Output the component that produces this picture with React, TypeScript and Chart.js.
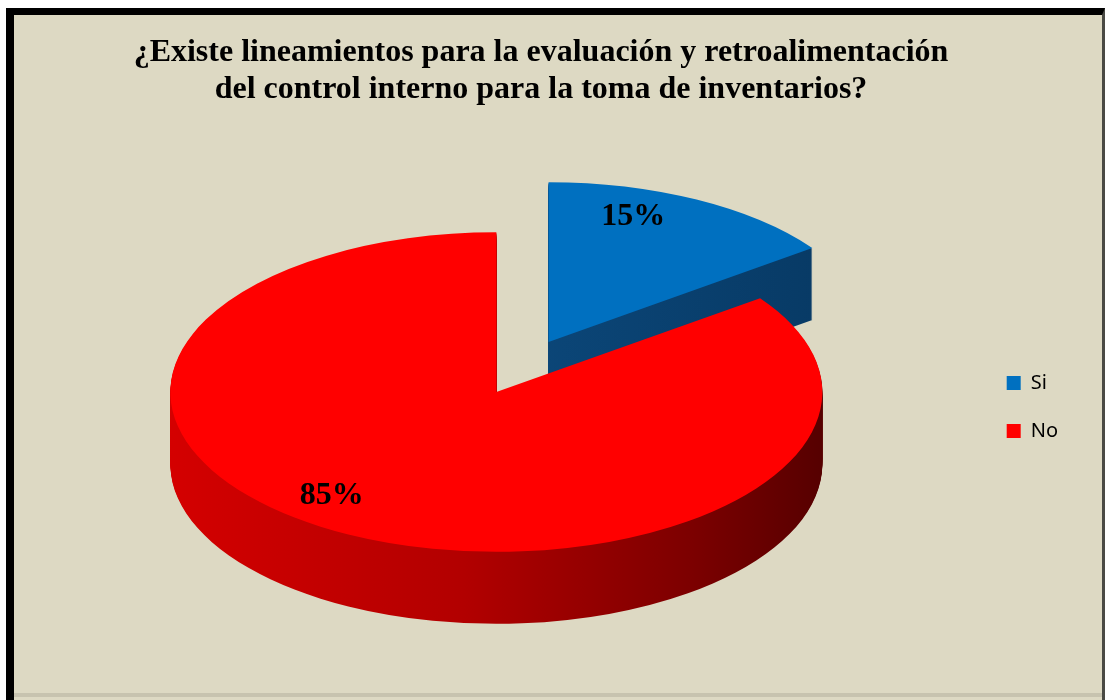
import { useEffect, useRef } from 'react';
import { Chart, registerables } from 'chart.js';

Chart.register(...registerables);

// ---- data ----
const categories = ['Si', 'No'];
const values = [15, 85];
const topColors = ['#0070C0', '#FF0000'];
const titleLines = [
  '¿Existe lineamientos para la evaluación y retroalimentación',
  'del control interno para la toma de inventarios?',
];

// ---- 3D look ----
const TILT = 0.49;
const DEPTH = 72;
const EXPLODE = [115, 0];
const LABEL_FRACTION = [0.82, 0.82];
const LABEL_ANGLE_SHIFT_DEG = [-6, 11];
const SERIF = "'Liberation Serif', 'Times New Roman', serif";

function sideFill(ctx: CanvasRenderingContext2D, index: number, cx: number, r: number) {
  const g = ctx.createLinearGradient(cx - r, 0, cx + r, 0);
  if (index === 0) {
    g.addColorStop(0, '#0F538C');
    g.addColorStop(1, '#073862');
  } else {
    g.addColorStop(0, '#D40000');
    g.addColorStop(0.45, '#B20000');
    g.addColorStop(0.8, '#7C0000');
    g.addColorStop(1, '#560000');
  }
  return g;
}

const pie3d = {
  id: 'pie3d',
  beforeDatasetsDraw(chart: any) {
    const meta = chart.getDatasetMeta(0);
    const arcs: any[] = meta.data;
    const ctx: CanvasRenderingContext2D = chart.ctx;
    arcs.forEach((arc, i) => {
      const { x: cx, y: cy, startAngle, endAngle, outerRadius } = arc;
      const half = (startAngle + endAngle) / 2;
      const ex = Math.cos(half) * EXPLODE[i];
      const ey = Math.sin(half) * EXPLODE[i];
      const place = (dy: number) => {
        ctx.translate(0, dy);
        ctx.translate(cx, cy);
        ctx.scale(1, TILT);
        ctx.translate(-cx + ex, -cy + ey);
      };
      const orig = arc.options;
      arc.options = { ...orig, backgroundColor: sideFill(ctx, i, cx, outerRadius), borderWidth: 0 };
      for (let d = DEPTH; d >= 1; d--) {
        ctx.save();
        place(d);
        arc.draw(ctx);
        ctx.restore();
      }
      arc.options = orig;
      ctx.save();
      place(0);
      arc.draw(ctx);
      ctx.restore();
    });
    return false;
  },
  afterDraw(chart: any) {
    const arcs: any[] = chart.getDatasetMeta(0).data;
    const ctx: CanvasRenderingContext2D = chart.ctx;
    ctx.save();
    ctx.font = `bold 32px ${SERIF}`;
    ctx.fillStyle = '#000';
    ctx.textAlign = 'center';
    ctx.textBaseline = 'middle';
    arcs.forEach((arc, i) => {
      const half = (arc.startAngle + arc.endAngle) / 2;
      const ang = half + (LABEL_ANGLE_SHIFT_DEG[i] * Math.PI) / 180;
      const rr = EXPLODE[i] + LABEL_FRACTION[i] * arc.outerRadius;
      const px = arc.x + Math.cos(ang) * rr;
      const py = arc.y + Math.sin(ang) * rr * TILT;
      ctx.fillText(`${values[i]}%`, px, py);
    });
    ctx.restore();
  },
};

export default function App() {
  const ref = useRef<HTMLCanvasElement>(null);
  useEffect(() => {
    const chart = new Chart(ref.current as HTMLCanvasElement, {
      type: 'pie',
      data: {
        labels: categories,
        datasets: [
          {
            data: values,
            backgroundColor: topColors,
            borderWidth: 0,
            radius: 326,
          } as any,
        ],
      },
      options: {
        responsive: false,
        animation: false,
        devicePixelRatio: 1,
        events: [],
        radius: 326,
        layout: { padding: { left: 0, right: 34, top: 0, bottom: 17 } },
        plugins: {
          title: {
            display: true,
            text: titleLines,
            color: '#000',
            font: { family: SERIF, size: 32, weight: 'bold', lineHeight: 1.15 },
            padding: { top: 19.6, bottom: 0 },
          },
          legend: {
            position: 'right',
            fullSize: false,
            labels: {
              boxWidth: 14,
              boxHeight: 14,
              padding: 28,
              color: '#000',
              font: { family: "'Noto Sans', sans-serif", size: 20 },
            },
            title: { display: true, text: ' ', font: { size: 20, lineHeight: 1.5 }, padding: 0 },
          },
          tooltip: { enabled: false },
        },
      } as any,
      plugins: [pie3d],
    });
    return () => chart.destroy();
  }, []);

  return (
    <div
      style={{
        position: 'absolute',
        left: 6,
        top: 8,
        width: 1099,
        height: 692,
        boxSizing: 'border-box',
        background: '#DDD9C3',
        borderTop: '7px solid #000',
        borderLeft: '8px solid #000',
        borderRight: '3px solid #4a4a44',
      }}
    >
      <canvas ref={ref} width={1088} height={678} style={{ display: 'block', width: 1088, height: 678 }} />
      <div style={{ height: 4, background: '#C7C3AF' }} />
    </div>
  );
}
